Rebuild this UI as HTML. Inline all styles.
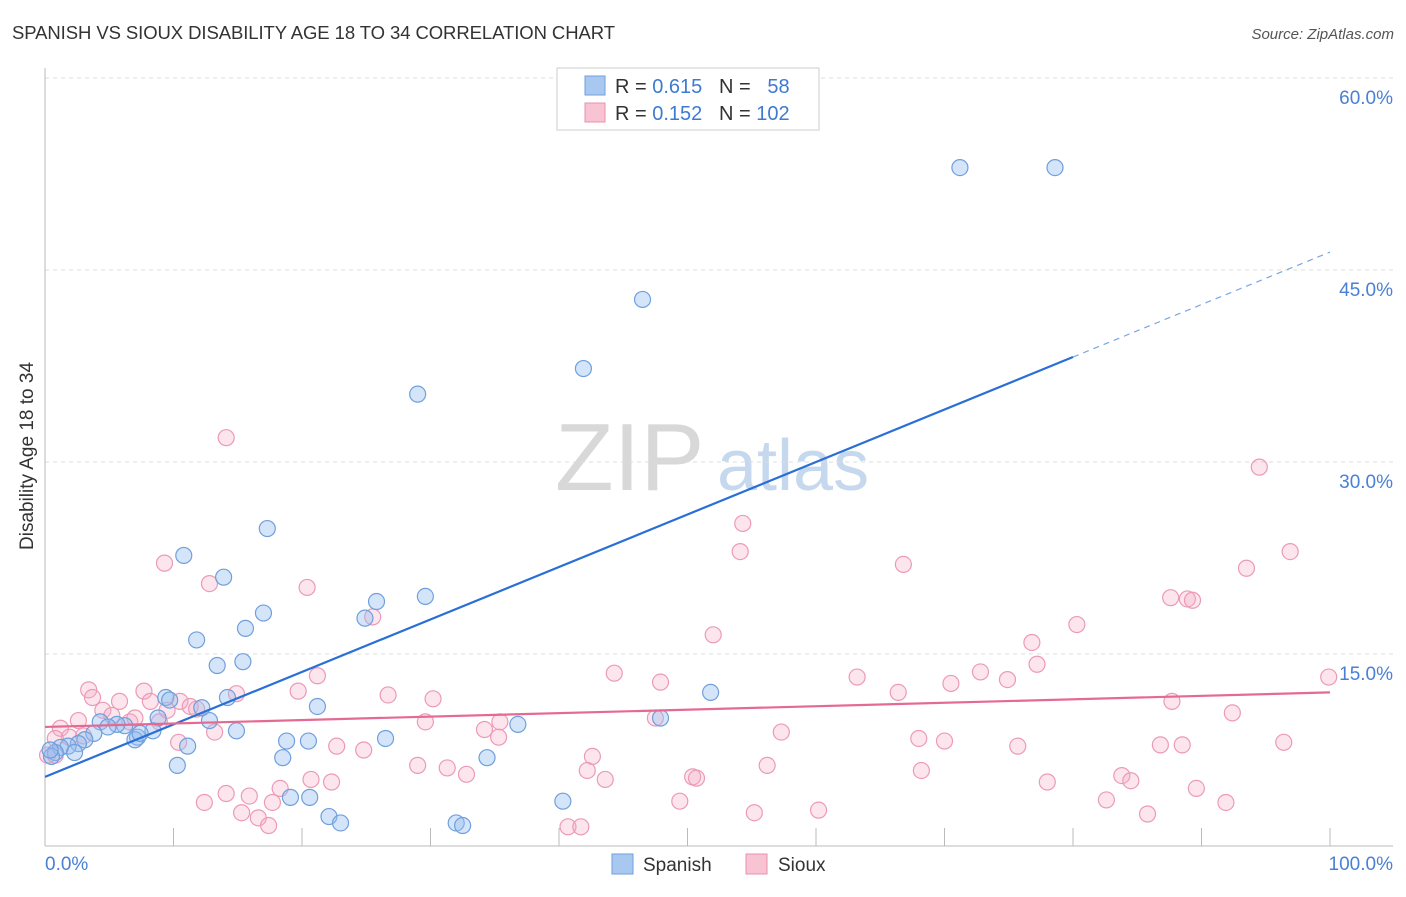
<!DOCTYPE html>
<html><head><meta charset="utf-8"><style>
body{margin:0;background:#fff;font-family:"Liberation Sans",sans-serif;}
svg text{font-family:"Liberation Sans",sans-serif;}
</style></head><body>
<svg id="chart" width="1406" height="892" xmlns="http://www.w3.org/2000/svg">
<text x="12" y="39" font-size="18.5" fill="#333" textLength="603">SPANISH VS SIOUX DISABILITY AGE 18 TO 34 CORRELATION CHART</text>
<text x="1394" y="39" font-size="15" fill="#555" font-style="italic" text-anchor="end">Source: ZipAtlas.com</text>
<g>
<text x="555" y="490" font-size="96" fill="#d8d8d8" font-family="Liberation Serif, serif">ZIP</text>
<text x="717" y="490" font-size="72" fill="#c5d8ee">atlas</text>
</g>
<g id="grid"></g>
<g id="axes"></g>
<g id="marks"></g>
<text transform="translate(33,456) rotate(-90)" font-size="19" fill="#333" text-anchor="middle">Disability Age 18 to 34</text>
<g>
<rect x="557" y="68" width="262" height="62" fill="#fff" stroke="#ccc"/>
<rect x="585" y="76" width="20" height="19" fill="#a8c8f0" stroke="#6f9fdc"/>
<rect x="585" y="103" width="20" height="19" fill="#f8c3d3" stroke="#e890ac"/>
<text x="615" y="93" font-size="20" fill="#333">R = <tspan fill="#3f7ad0">0.615</tspan>&#160;&#160;&#160;N = &#160;&#160;<tspan fill="#3f7ad0">58</tspan></text>
<text x="615" y="120" font-size="20" fill="#333">R = <tspan fill="#3f7ad0">0.152</tspan>&#160;&#160;&#160;N = <tspan fill="#3f7ad0">102</tspan></text>
</g>
<g>
<rect x="612" y="854" width="21" height="20" fill="#a8c8f0" stroke="#6f9fdc"/>
<text x="643" y="871" font-size="19" fill="#333">Spanish</text>
<rect x="746" y="854" width="21" height="20" fill="#f8c3d3" stroke="#e890ac"/>
<text x="778" y="871" font-size="19" fill="#333">Sioux</text>
</g>
</svg>
<script>
const yTicks=[15,30,45,60];
const yTickLabels=["15.0%","30.0%","45.0%","60.0%"];
const spanishX=[71.2,78.6,46.5,41.9,29.0,17.3,10.8,13.9,29.6,25.8,17.0,24.9,15.6,11.8,15.4,13.4,51.8,9.4,9.7,14.2,21.2,12.2,8.8,12.8,47.9,36.8,14.9,8.4,7.2,7.0,6.2,5.6,4.3,4.9,3.8,3.1,2.6,1.8,1.2,0.8,0.5,2.3,11.1,26.5,18.8,20.5,10.3,18.5,34.4,19.1,20.6,22.1,23.0,32.0,32.5,40.3,7.4,0.4];
const spanishY=[53.0,53.0,42.7,37.3,35.3,24.8,22.7,21.0,19.5,19.1,18.2,17.8,17.0,16.1,14.4,14.1,12.0,11.6,11.4,11.6,10.9,10.8,10.0,9.8,10.0,9.5,9.0,9.0,8.5,8.3,9.4,9.5,9.7,9.3,8.8,8.3,8.0,7.8,7.7,7.3,7.0,7.3,7.8,8.4,8.2,8.2,6.3,6.9,6.9,3.8,3.8,2.3,1.8,1.8,1.6,3.5,8.8,7.5];
const siouxX=[14.1,9.3,12.8,20.4,54.3,54.1,66.8,94.5,96.9,93.5,87.6,88.9,89.3,80.3,52.0,76.8,77.2,72.8,74.9,44.3,47.9,63.2,66.4,70.5,25.5,21.2,26.7,30.2,19.7,14.9,3.4,3.7,5.8,7.7,8.2,9.5,10.5,11.3,4.5,5.2,2.6,1.2,1.9,0.8,6.6,8.9,13.2,10.4,87.7,92.4,47.5,35.4,29.6,34.2,35.3,57.3,68.0,70.0,75.7,86.8,88.5,96.4,22.7,24.8,42.6,29.0,31.3,32.8,42.2,43.6,56.2,50.4,50.7,68.2,78.0,83.8,84.5,89.6,20.7,22.3,18.3,14.1,15.9,12.4,17.7,49.4,82.6,91.9,15.3,16.6,55.2,60.2,85.8,40.7,41.7,17.4,0.2,0.8,99.9,7.0,11.8,3.0];
const siouxY=[31.9,22.1,20.5,20.2,25.2,23.0,22.0,29.6,23.0,21.7,19.4,19.3,19.2,17.3,16.5,15.9,14.2,13.6,13.0,13.5,12.8,13.2,12.0,12.7,17.9,13.3,11.8,11.5,12.1,11.9,12.2,11.6,11.3,12.1,11.3,10.6,11.3,10.9,10.6,10.2,9.8,9.2,8.5,8.4,9.7,9.7,8.9,8.1,11.3,10.4,10.0,9.7,9.7,9.1,8.5,8.9,8.4,8.2,7.8,7.9,7.9,8.1,7.8,7.5,7.0,6.3,6.1,5.6,5.9,5.2,6.3,5.4,5.3,5.9,5.0,5.5,5.1,4.5,5.2,5.0,4.5,4.1,3.9,3.4,3.4,3.5,3.6,3.4,2.6,2.2,2.6,2.8,2.5,1.5,1.5,1.6,7.1,7.1,13.2,10.0,10.7,8.6];
const spanishFit=[5.4,38.2]; // y at x=0 and x=80
const siouxFit=[9.3,12.0]; // y at x=0 and x=100

const NS="http://www.w3.org/2000/svg";
const X=v=>45+v*12.85, Y=v=>846-v*12.8;
function mk(tag,attrs,parent){const e=document.createElementNS(NS,tag);for(const k in attrs)e.setAttribute(k,attrs[k]);parent.appendChild(e);return e;}
const grid=document.getElementById('grid'),axes=document.getElementById('axes'),marks=document.getElementById('marks');
yTicks.forEach((t,i)=>{
 const l=mk('line',{x1:45,x2:1393,y1:Y(t),y2:Y(t),stroke:'#ddd','stroke-dasharray':'4,4'},grid);
 
 
 const tx=mk('text',{x:1393,y:Y(t)+26,'font-size':19,fill:'#4a80d4','text-anchor':'end'},axes);
 tx.textContent=yTickLabels[i];
 
 
});
const ya=mk('line',{x1:45,x2:45,y1:68,y2:846,stroke:'#bbb'},axes);


const xa=mk('line',{x1:45,x2:1393,y1:846,y2:846,stroke:'#bbb'},axes);


for(let i=1;i<=10;i++){const t=mk('line',{x1:X(i*10),x2:X(i*10),y1:828,y2:846,stroke:'#bbb'},axes);
 
 }
[[45,'0.0%','start'],[1393,'100.0%','end']].forEach(a=>{const t=mk('text',{x:a[0],y:870,'font-size':19,fill:'#4a80d4','text-anchor':a[2]},axes);t.textContent=a[1];
 
 });
siouxX.forEach((v,i)=>{const c=mk('circle',{cx:X(v),cy:Y(siouxY[i]),r:8,fill:'rgba(245,170,195,0.3)',stroke:'#ec9ab6','stroke-width':1.2},marks);
 
 });
spanishX.forEach((v,i)=>{const c=mk('circle',{cx:X(v),cy:Y(spanishY[i]),r:8,fill:'rgba(150,190,240,0.4)',stroke:'#6f9fdc','stroke-width':1.2},marks);
 
 });
const slope=(spanishFit[1]-spanishFit[0])/80;
const bl=mk('line',{x1:X(0),y1:Y(spanishFit[0]),x2:X(80),y2:Y(spanishFit[1]),stroke:'#2a6fd6','stroke-width':2.2},marks);


const bd=mk('line',{x1:X(80),y1:Y(spanishFit[1]),x2:X(100),y2:Y(spanishFit[0]+slope*100),stroke:'#7aa6e0','stroke-width':1.2,'stroke-dasharray':'6,5'},marks);


const pl=mk('line',{x1:X(0),y1:Y(siouxFit[0]),x2:X(100),y2:Y(siouxFit[1]),stroke:'#e56a93','stroke-width':2.2},marks);


</script>
</body></html>
